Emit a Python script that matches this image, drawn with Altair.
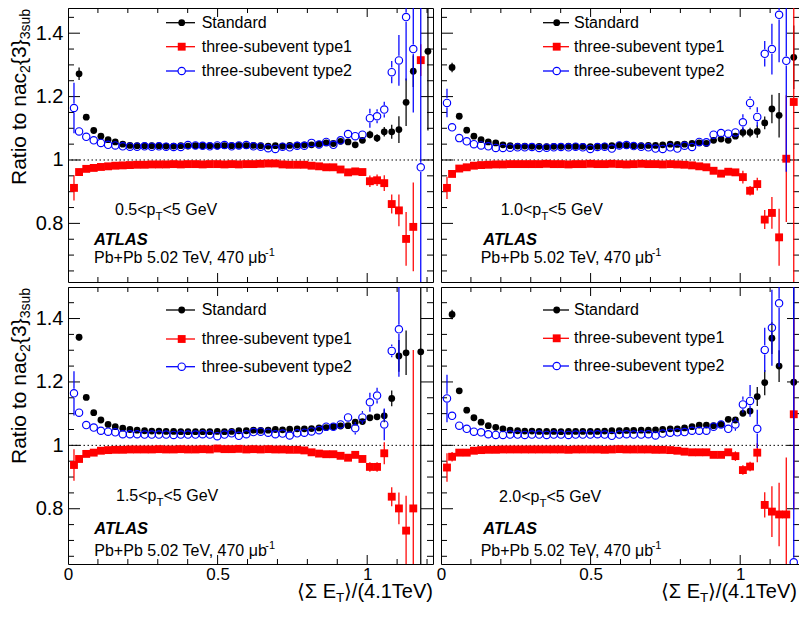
import altair as alt
import pandas as pd

FONT = "Liberation Sans, Arial, Helvetica, DejaVu Sans, sans-serif"
BLACK = "#000000"
RED = "#ff0000"
BLUE = "#0000ff"

# bin centres of <Sum E_T>/(4.1 TeV)
X_BINS = [0.020, 0.037, 0.061, 0.086, 0.110, 0.134, 0.158, 0.183, 0.207, 0.231,
          0.256, 0.280, 0.304, 0.328, 0.353, 0.377, 0.401, 0.426, 0.450, 0.474,
          0.499, 0.523, 0.547, 0.571, 0.596, 0.620, 0.644, 0.669, 0.693, 0.717,
          0.741, 0.766, 0.790, 0.814, 0.839, 0.863, 0.887, 0.911, 0.936, 0.960,
          0.984, 1.009, 1.033, 1.057, 1.082, 1.106, 1.130, 1.154, 1.179, 1.203]

SERIES = ["Standard", "three-subevent type1", "three-subevent type2"]
PT_LABELS = ["0.5", "1.0", "1.5", "2.0"]

# ---- 0.5 < pT < 5 GeV ----
TL_STD = [None, 1.272, 1.135, 1.093, 1.075, 1.064, 1.057, 1.050, 1.046, 1.045,
          1.045, 1.045, 1.045, 1.044, 1.044, 1.045, 1.044, 1.045, 1.045, 1.045,
          1.044, 1.045, 1.045, 1.046, 1.045, 1.046, 1.045, 1.044, 1.045, 1.044,
          1.046, 1.047, 1.048, 1.048, 1.050, 1.054, 1.052, 1.059, 1.057, 1.048,
          1.062, 1.080, 1.069, 1.089, 1.089, 1.096, 1.182, 1.280, None, 1.343]
TL_T1 = [0.912, 0.962, 0.972, 0.975, 0.978, 0.980, 0.982, 0.983, 0.984, 0.985,
         0.985, 0.986, 0.986, 0.986, 0.987, 0.986, 0.987, 0.987, 0.986, 0.987,
         0.987, 0.986, 0.987, 0.986, 0.987, 0.987, 0.988, 0.989, 0.989, 0.986,
         0.985, 0.985, 0.985, 0.982, 0.980, 0.977, 0.977, 0.970, 0.961, 0.964,
         0.962, 0.933, 0.936, 0.927, 0.861, 0.841, 0.751, 0.789, 1.315, None]
TL_T2 = [1.164, 1.090, 1.073, 1.062, 1.054, 1.048, 1.046, 1.043, 1.042, 1.042,
         1.043, 1.042, 1.043, 1.042, 1.041, 1.041, 1.047, 1.046, 1.045, 1.043,
         1.046, 1.047, 1.043, 1.046, 1.047, 1.043, 1.042, 1.037, 1.035, 1.042,
         1.040, 1.045, 1.045, 1.054, 1.049, 1.057, 1.048, 1.062, 1.082, 1.075,
         1.080, 1.132, 1.138, 1.159, 1.277, 1.314, 1.451, 1.350, 0.977, None]
TL_E_STD = {1: 0.02, 41: 0.012, 42: 0.012, 43: 0.015, 44: 0.022, 45: 0.042, 46: 0.075, 47: 0.05, 49: 0.25}
TL_E_T1 = {0: 0.04, 1: 0.01, 41: 0.018, 42: 0.018, 43: 0.025, 44: 0.03, 45: 0.05, 46: 0.085, 47: 0.14, 48: 0.05}
TL_E_T2 = {0: 0.08, 1: 0.015, 41: 0.03, 42: 0.022, 43: 0.025, 44: 0.035, 45: 0.08, 46: 0.2, 47: 0.2, 48: 1.0}

# ---- 1.0 < pT < 5 GeV ----
TR_STD = [None, 1.292, 1.138, 1.094, 1.075, 1.064, 1.057, 1.054, 1.048, 1.045,
          1.044, 1.044, 1.043, 1.043, 1.042, 1.043, 1.043, 1.044, 1.043, 1.043,
          1.042, 1.043, 1.044, 1.045, 1.047, 1.046, 1.045, 1.045, 1.046, 1.046,
          1.048, 1.050, 1.049, 1.050, 1.052, 1.054, 1.052, 1.062, 1.066, 1.062,
          1.075, 1.087, 1.087, 1.090, 1.117, 1.161, 1.141, None, 1.324, None]
TR_T1 = [0.912, 0.956, 0.973, 0.977, 0.982, 0.984, 0.985, 0.986, 0.986, 0.987,
         0.987, 0.987, 0.987, 0.987, 0.988, 0.987, 0.987, 0.986, 0.987, 0.987,
         0.988, 0.987, 0.987, 0.988, 0.987, 0.986, 0.987, 0.988, 0.987, 0.987,
         0.986, 0.987, 0.986, 0.985, 0.983, 0.980, 0.977, 0.966, 0.957, 0.963,
         0.961, 0.946, 0.903, 0.924, 0.812, 0.833, 0.756, 1.004, 1.183, None]
TR_T2 = [1.180, 1.103, 1.069, 1.059, 1.050, 1.046, 1.043, 1.038, 1.038, 1.039,
         1.040, 1.040, 1.041, 1.038, 1.039, 1.040, 1.041, 1.040, 1.042, 1.040,
         1.035, 1.041, 1.042, 1.036, 1.046, 1.047, 1.044, 1.042, 1.040, 1.036,
         1.035, 1.040, 1.036, 1.045, 1.041, 1.057, 1.056, 1.080, 1.085, 1.083,
         1.087, 1.119, 1.180, 1.136, 1.335, 1.350, 1.458, 1.313, None, None]
TR_E_STD = {1: 0.015, 41: 0.015, 42: 0.015, 43: 0.02, 44: 0.02, 45: 0.045, 46: 0.07, 48: 0.1}
TR_E_T1 = {0: 0.035, 1: 0.01, 41: 0.02, 42: 0.015, 43: 0.02, 44: 0.03, 45: 0.05, 46: 0.09, 47: 0.2, 48: 0.9}
TR_E_T2 = {0: 0.045, 1: 0.015, 41: 0.025, 42: 0.02, 43: 0.03, 44: 0.04, 45: 0.08, 46: 0.15, 47: 0.35}

# ---- 1.5 < pT < 5 GeV ----
BL_STD = [None, 1.341, 1.151, 1.103, 1.080, 1.066, 1.059, 1.054, 1.050, 1.048,
          1.046, 1.045, 1.045, 1.044, 1.044, 1.043, 1.043, 1.043, 1.043, 1.043,
          1.044, 1.043, 1.044, 1.046, 1.046, 1.048, 1.047, 1.048, 1.050, 1.049,
          1.051, 1.052, 1.052, 1.053, 1.055, 1.056, 1.059, 1.061, 1.062, 1.073,
          1.075, 1.087, 1.090, 1.093, 1.148, 1.282, 1.292, None, 1.295, None]
BL_T1 = [0.938, 0.957, 0.973, 0.977, 0.983, 0.985, 0.986, 0.986, 0.987, 0.987,
         0.987, 0.987, 0.988, 0.987, 0.987, 0.988, 0.987, 0.987, 0.988, 0.987,
         0.990, 0.988, 0.988, 0.989, 0.987, 0.988, 0.987, 0.988, 0.987, 0.987,
         0.986, 0.986, 0.984, 0.978, 0.974, 0.972, 0.972, 0.967, 0.961, 0.970,
         0.957, 0.932, 0.932, 0.975, 0.838, 0.801, 0.731, 0.801, None, None]
BL_T2 = [1.164, 1.103, 1.064, 1.056, 1.046, 1.043, 1.041, 1.035, 1.035, 1.035,
         1.034, 1.034, 1.034, 1.034, 1.033, 1.034, 1.034, 1.034, 1.035, 1.034,
         1.029, 1.034, 1.038, 1.030, 1.035, 1.042, 1.043, 1.040, 1.035, 1.037,
         1.031, 1.038, 1.040, 1.044, 1.048, 1.059, 1.059, 1.066, 1.088, 1.054,
         1.088, 1.136, 1.157, 1.066, 1.298, 1.366, None, None, None, None]
BL_E_STD = {1: 0.01, 43: 0.02, 44: 0.025, 45: 0.05, 46: 0.07, 48: 0.9}
BL_E_T1 = {0: 0.05, 1: 0.01, 41: 0.015, 42: 0.015, 43: 0.035, 44: 0.03, 45: 0.05, 46: 0.11, 47: 0.5}
BL_E_T2 = {0: 0.07, 1: 0.01, 39: 0.02, 40: 0.02, 41: 0.03, 42: 0.025, 43: 0.05, 44: 0.02, 45: 0.15}

# ---- 2.0 < pT < 5 GeV ----
BR_STD = [None, 1.413, 1.172, 1.111, 1.087, 1.073, 1.062, 1.057, 1.052, 1.048,
          1.046, 1.045, 1.045, 1.044, 1.044, 1.044, 1.043, 1.044, 1.044, 1.044,
          1.044, 1.044, 1.045, 1.046, 1.046, 1.047, 1.047, 1.048, 1.048, 1.049,
          1.050, 1.052, 1.052, 1.055, 1.059, 1.064, 1.064, 1.062, 1.066, 1.082,
          1.080, 1.101, 1.108, 1.154, 1.198, 1.338, 1.250, None, 1.199, None]
BR_T1 = [0.930, 0.964, 0.977, 0.977, 0.983, 0.985, 0.986, 0.986, 0.987, 0.987,
         0.987, 0.987, 0.987, 0.987, 0.987, 0.987, 0.987, 0.986, 0.987, 0.987,
         0.987, 0.987, 0.986, 0.987, 0.988, 0.987, 0.987, 0.987, 0.987, 0.986,
         0.986, 0.985, 0.983, 0.980, 0.978, 0.978, 0.978, 0.970, 0.970, 0.978,
         0.966, 0.922, 0.933, 0.977, 0.812, 0.791, 0.782, 0.782, 1.098, None]
BR_T2 = [1.148, 1.093, 1.062, 1.052, 1.043, 1.041, 1.035, 1.033, 1.033, 1.034,
         1.034, 1.033, 1.034, 1.034, 1.033, 1.034, 1.034, 1.033, 1.034, 1.034,
         1.034, 1.035, 1.034, 1.030, 1.034, 1.035, 1.034, 1.034, 1.035, 1.031,
         1.037, 1.040, 1.041, 1.042, 1.046, 1.046, 1.046, 1.059, 1.066, 1.052,
         1.066, 1.129, 1.140, 1.052, 1.301, 1.371, 1.448, None, 0.631, None]
BR_E_STD = {1: 0.015, 43: 0.03, 44: 0.04, 45: 0.05, 46: 0.05, 48: 0.3}
BR_E_T1 = {0: 0.045, 1: 0.015, 40: 0.015, 41: 0.015, 42: 0.015, 43: 0.03, 44: 0.04, 45: 0.08, 46: 0.1, 47: 0.18, 48: 0.3}
BR_E_T2 = {0: 0.075, 1: 0.015, 39: 0.015, 40: 0.02, 41: 0.025, 42: 0.05, 43: 0.06, 44: 0.07, 45: 0.12, 46: 0.2, 48: 1.0}

SMALL_ERR = 0.003  # error bars hidden under the markers

X_LABELS = [0, 0.5, 1]
X_MAJOR = [0, 0.5, 1.0]
X_MINOR = [0.1, 0.2, 0.3, 0.4, 0.6, 0.7, 0.8, 0.9, 1.1, 1.2]
Y_LABELS = [0.8, 1.0, 1.2, 1.4]
Y_MAJOR = [0.8, 1.0, 1.2, 1.4]
Y_MINOR = [0.65, 0.7, 0.75, 0.85, 0.9, 0.95, 1.05, 1.1, 1.15, 1.25, 1.3, 1.35, 1.45]

W_LEFT = 365
W_RIGHT = 358          # right column is cut by the page edge
PX_PER_X = 299.2       # pixels per unit of x
H_TOP = 274
H_BOT = 277
Y_DOM_TOP = [0.6151, 1.4795]
Y_DOM_BOT = [0.6257, 1.4995]
R_MARK = 4.6
EB_W = 1.25

ONE = pd.DataFrame({"a": [0]})


def series_df(vals, errs):
    rows = []
    for i, v in enumerate(vals):
        if v is None:
            continue
        e = errs.get(i, SMALL_ERR)
        rows.append({"x": X_BINS[i], "y": v, "lo": v - e, "hi": v + e})
    return pd.DataFrame(rows)


def txt(s, x, y, size, align="left", baseline="alphabetic", angle=None,
        weight=None, style=None):
    kw = dict(text=s, align=align, baseline=baseline, fontSize=size, font=FONT, color="black")
    if angle is not None:
        kw["angle"] = angle
    if weight:
        kw["fontWeight"] = weight
    if style:
        kw["fontStyle"] = style
    return alt.Chart(ONE).mark_text(**kw).encode(x=alt.value(x), y=alt.value(y))


def make_panel(std, t1, t2, e_std, e_t1, e_t2, pt, bottom, left, lay):
    H = H_BOT if bottom else H_TOP
    W = W_LEFT if left else W_RIGHT
    ydom = Y_DOM_BOT if bottom else Y_DOM_TOP
    px_per = H / (ydom[1] - ydom[0])
    xs = alt.Scale(domain=[0, W / PX_PER_X], nice=False, zero=False)
    ys = alt.Scale(domain=ydom, nice=False, zero=False)
    xaxis = (alt.Axis(values=X_LABELS, format="~g", title=None, ticks=False, domain=False,
                      grid=False, labelFontSize=17, labelPadding=2, labelFont=FONT,
                      labelColor="black", labelFlush=False)
             if bottom else None)
    yaxis = (alt.Axis(values=Y_LABELS, format="~g", title=None, ticks=False, domain=False,
                      grid=False, labelFontSize=20, labelPadding=5, labelFont=FONT,
                      labelColor="black")
             if left else None)

    def X(f):
        return alt.X(f, type="quantitative", scale=xs, axis=xaxis)

    def Y(f):
        return alt.Y(f, type="quantitative", scale=ys, axis=yaxis)

    layers = []
    # inward ticks on all four sides
    for vals, ln in ((X_MAJOR, 9), (X_MINOR, 5)):
        d = pd.DataFrame({"v": vals})
        layers.append(alt.Chart(d).mark_rule(color="black", strokeWidth=1, clip=True)
                      .encode(x=X("v"), y=alt.value(H), y2=alt.value(H - ln)))
        layers.append(alt.Chart(d).mark_rule(color="black", strokeWidth=1, clip=True)
                      .encode(x=X("v"), y=alt.value(0), y2=alt.value(ln)))
    for vals, ln in ((Y_MAJOR, 12), (Y_MINOR, 6)):
        d = pd.DataFrame({"v": vals})
        layers.append(alt.Chart(d).mark_rule(color="black", strokeWidth=1)
                      .encode(y=Y("v"), x=alt.value(0), x2=alt.value(ln)))
        layers.append(alt.Chart(d).mark_rule(color="black", strokeWidth=1)
                      .encode(y=Y("v"), x=alt.value(W), x2=alt.value(W - ln)))
    # dotted reference line at 1
    layers.append(alt.Chart(pd.DataFrame({"v": [1.0]}))
                  .mark_rule(color="black", strokeWidth=1, strokeDash=[1.5, 2.5])
                  .encode(y=Y("v")))

    d_std = series_df(std, e_std)
    d_t1 = series_df(t1, e_t1)
    d_t2 = series_df(t2, e_t2)

    # Standard
    layers.append(alt.Chart(d_std).mark_rule(color=BLACK, strokeWidth=EB_W, clip=True)
                  .encode(x=X("x"), y=Y("lo"), y2=alt.Y2("hi")))
    layers.append(alt.Chart(d_std).mark_point(shape="circle", filled=True, size=46, color=BLACK,
                                              opacity=1, clip=True)
                  .encode(x=X("x"), y=Y("y")))
    # type1
    layers.append(alt.Chart(d_t1).mark_rule(color=RED, strokeWidth=EB_W, clip=True)
                  .encode(x=X("x"), y=Y("lo"), y2=alt.Y2("hi")))
    layers.append(alt.Chart(d_t1).mark_point(shape="square", filled=True, size=62, color=RED,
                                             opacity=1, clip=True)
                  .encode(x=X("x"), y=Y("y")))
    # type2 (open circles, bars stop at the marker edge)
    up = d_t2[(d_t2["hi"] - d_t2["y"]) * px_per > R_MARK + 1]
    dn = d_t2[(d_t2["y"] - d_t2["lo"]) * px_per > R_MARK + 1]
    if len(up):
        layers.append(alt.Chart(up).mark_rule(color=BLUE, strokeWidth=EB_W, clip=True, yOffset=-R_MARK)
                      .encode(x=X("x"), y=Y("y"), y2=alt.Y2("hi")))
    if len(dn):
        layers.append(alt.Chart(dn).mark_rule(color=BLUE, strokeWidth=EB_W, clip=True, yOffset=R_MARK)
                      .encode(x=X("x"), y=Y("y"), y2=alt.Y2("lo")))
    layers.append(alt.Chart(d_t2).mark_point(shape="circle", filled=False, size=54, color=BLUE,
                                             strokeWidth=1.15, opacity=1, clip=True)
                  .encode(x=X("x"), y=Y("y")))

    # legend
    colors = [BLACK, RED, BLUE]
    for i, name in enumerate(SERIES):
        ly = lay["rows"][i]
        layers.append(alt.Chart(ONE).mark_rule(color=colors[i], strokeWidth=1.3)
                      .encode(x=alt.value(lay["line"][0]), x2=alt.value(lay["line"][1]), y=alt.value(ly)))
        if i == 0:
            mk = alt.Chart(ONE).mark_point(shape="circle", filled=True, size=46, color=BLACK, opacity=1)
        elif i == 1:
            mk = alt.Chart(ONE).mark_point(shape="square", filled=True, size=62, color=RED, opacity=1)
        else:
            mk = alt.Chart(ONE).mark_point(shape="circle", filled=True, size=54, fill="white",
                                           stroke=BLUE, strokeWidth=1.15, opacity=1)
        layers.append(mk.encode(x=alt.value(lay["mark"]), y=alt.value(ly)))
        layers.append(txt(name, lay["text"], ly, 16, baseline="middle"))

    # annotations
    px, py = lay["pt"]
    layers.append(txt(pt + "<p", px, py, 16))
    layers.append(txt("T", px + 40.5, py + 5, 11.5))
    layers.append(txt("<5 GeV", px + 47.5, py, 16))
    ax, ay = lay["atlas"]
    layers.append(txt("ATLAS", ax, ay, 16.5, weight="bold", style="italic"))
    bx, by = lay["pbpb"]
    layers.append(txt("Pb+Pb 5.02 TeV, 470 \u03bcb", bx, by, 16))
    layers.append(txt("-1", bx + 171, by - 7, 11))

    if left:
        tx_main, tx_sub = -42, -38.5
        layers.append(txt("3sub", tx_sub, 1, 14, align="right", angle=270))
        layers.append(txt("{3}", tx_main, 31.4, 21, align="right", angle=270))
        layers.append(txt("2", tx_sub, 57.1, 14, align="right", angle=270))
        layers.append(txt("Ratio to nac", tx_main, 64.9, 21, align="right", angle=270))
    if bottom:
        x_end = 365 if left else W - 2
        layers.append(txt("\u27e9/(4.1TeV)", x_end, 311, 20, align="right"))
        layers.append(txt("T", x_end - 97, 314.5, 13.5))
        layers.append(txt("\u27e8\u03a3 E", x_end - 97, 311, 20, align="right"))

    return alt.layer(*layers).properties(width=W, height=H)


# legend / label placement inside each panel (pixels from the panel's top-left corner)
LAY_TL = dict(rows=[14.7, 38.7, 63.0], line=(98, 127), mark=113.7, text=133.7,
              pt=(47, 207), atlas=(26, 237), pbpb=(26, 255.3))
LAY_TR = dict(rows=[14.7, 38.7, 63.0], line=(102, 128), mark=115.7, text=133,
              pt=(59.7, 207), atlas=(42.3, 237), pbpb=(39.7, 255.3))
LAY_BL = dict(rows=[23, 52, 79.7], line=(98, 127), mark=113.7, text=133.7,
              pt=(48, 214), atlas=(26.3, 247.3), pbpb=(26.3, 268.7))
LAY_BR = dict(rows=[23, 51.3, 79], line=(102, 128), mark=115.7, text=133,
              pt=(58, 214.7), atlas=(42.3, 247.3), pbpb=(39.7, 268.7))

tl = make_panel(TL_STD, TL_T1, TL_T2, TL_E_STD, TL_E_T1, TL_E_T2, PT_LABELS[0], False, True, LAY_TL)
tr = make_panel(TR_STD, TR_T1, TR_T2, TR_E_STD, TR_E_T1, TR_E_T2, PT_LABELS[1], False, False, LAY_TR)
bl = make_panel(BL_STD, BL_T1, BL_T2, BL_E_STD, BL_E_T1, BL_E_T2, PT_LABELS[2], True, True, LAY_BL)
br = make_panel(BR_STD, BR_T1, BR_T2, BR_E_STD, BR_E_T1, BR_E_T2, PT_LABELS[3], True, False, LAY_BR)

chart = (alt.concat(tl, tr, bl, br, columns=2, spacing={"row": 5, "column": 8}, bounds="flush")
         .properties(autosize=alt.AutoSizeParams(type="none"),
                     padding={"left": 60, "top": 0, "right": 731, "bottom": 596},
                     background="white")
         .configure_view(stroke="black", strokeWidth=1))

chart.save("out.html", embed_options={"renderer": "svg", "actions": False})
